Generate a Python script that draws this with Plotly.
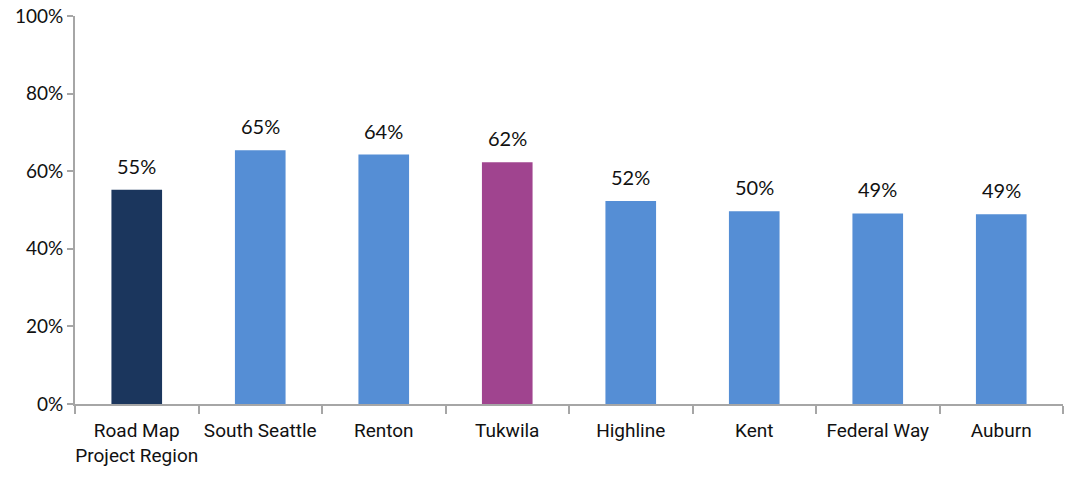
import plotly.graph_objects as go

categories = ["Road Map<br>Project Region", "South Seattle", "Renton", "Tukwila",
              "Highline", "Kent", "Federal Way", "Auburn"]
values = [0.552, 0.654, 0.643, 0.623, 0.523, 0.497, 0.491, 0.489]
colors = ["#1B365D", "#558ED5", "#558ED5", "#A0448F",
          "#558ED5", "#558ED5", "#558ED5", "#558ED5"]
y_ticks = [0, 0.2, 0.4, 0.6, 0.8, 1.0]

fig = go.Figure(go.Bar(
    x=categories, y=values,
    marker=dict(color=colors, line=dict(width=0)),
    width=0.41,
    hoverinfo="skip",
))

for c, v in zip(categories, values):
    fig.add_annotation(
        x=c, y=v, text=f"{round(v * 100)}%", showarrow=False,
        yanchor="bottom", yshift=10,
        font=dict(family="Lato, Open Sans, sans-serif", size=20, color="#111111"),
    )

fig.update_layout(
    width=1071, height=481,
    margin=dict(l=75, r=8, t=16, b=77),
    plot_bgcolor="white", paper_bgcolor="white",
    showlegend=False,
    xaxis=dict(
        automargin=False, tickangle=0,
        showline=True, linecolor="#A6A6A6", linewidth=2,
        ticks="outside", tickson="boundaries", ticklen=8, tickcolor="#A6A6A6", tickwidth=2,
        ticklabelstandoff=8,
        tickfont=dict(family="Roboto, Liberation Sans, sans-serif", size=19, color="#111111"),
        showgrid=False,
    ),
    yaxis=dict(
        automargin=False,
        range=[0, 1], tickvals=y_ticks, tickformat=".0%",
        ticklabeloverflow="allow",
        showline=True, linecolor="#A6A6A6", linewidth=2,
        ticks="outside", ticklen=6, tickcolor="#A6A6A6", tickwidth=2,
        tickfont=dict(family="Lato, Open Sans, sans-serif", size=19, color="#111111"),
        showgrid=False, zeroline=False,
    ),
    bargap=0.59,
)

fig.write_html(
    "out.html",
    config={"displayModeBar": False},
    post_script="document.body.style.margin='0';document.body.style.overflow='hidden';",
)
